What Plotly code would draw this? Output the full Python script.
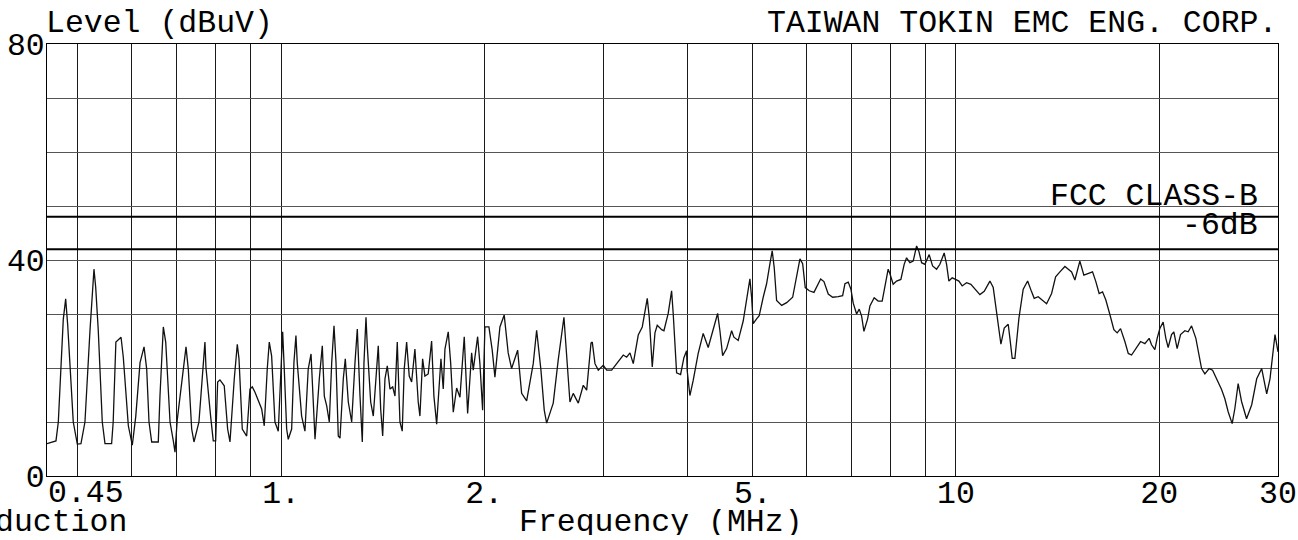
import math
import plotly.graph_objects as go

# ---- data (frequency in MHz, level in dBuV) ----
freq_mhz = [
    0.450, 0.4577, 0.4640, 0.4677, 0.4757, 0.4796, 0.4829, 0.4922, 0.4990, 0.5053,
    0.5122, 0.5211, 0.5282, 0.5313, 0.5360, 0.5434, 0.5484, 0.5610, 0.5640, 0.5692,
    0.5793, 0.5838, 0.5939, 0.6020, 0.6091, 0.6181, 0.6266, 0.6323, 0.6373, 0.6432,
    0.6578, 0.6616, 0.6692, 0.6747, 0.6847, 0.6924, 0.6964, 0.7019, 0.7125, 0.7231,
    0.7287, 0.7372, 0.7430, 0.7557, 0.7713, 0.7740, 0.7865, 0.7935, 0.8000, 0.8055,
    0.8118, 0.8238, 0.8334, 0.8401, 0.8525, 0.8613, 0.8663, 0.8761, 0.8893, 0.8994,
    0.9065, 0.9149, 0.9360, 0.9443, 0.9540, 0.9606, 0.9684, 0.9794, 0.9905, 1.0000,
    1.0055, 1.0110, 1.0193, 1.0248, 1.0368, 1.0450, 1.0521, 1.0568, 1.0727, 1.0849,
    1.0971, 1.1077, 1.1164, 1.1228, 1.1394, 1.1511, 1.1590, 1.1685, 1.1789, 1.1886,
    1.1980, 1.2062, 1.2156, 1.2227, 1.2366, 1.2450, 1.2578, 1.2725, 1.2869, 1.2971,
    1.3091, 1.3194, 1.3270, 1.3361, 1.3420, 1.3577, 1.3698, 1.3824, 1.3933, 1.4048,
    1.4144, 1.4255, 1.4368, 1.4501, 1.4635, 1.4750, 1.4866, 1.5002, 1.5120, 1.5223,
    1.5348, 1.5485, 1.5612, 1.5788, 1.5967, 1.6060, 1.6208, 1.6336, 1.6521, 1.6714,
    1.6845, 1.7004, 1.7155, 1.7255, 1.7391, 1.7492, 1.7690, 1.7835, 1.7995, 1.8204,
    1.8410, 1.8682, 1.8899, 1.9159, 1.9264, 1.9555, 1.9708, 1.9891, 2.0048, 2.0323,
    2.0553, 2.0743, 2.1100, 2.1411, 2.1704, 2.1957, 2.2415, 2.2723, 2.3114, 2.3640,
    2.3915, 2.4269, 2.4544, 2.4746, 2.5309, 2.5744, 2.6250, 2.6583, 2.6793, 2.7096,
    2.7567, 2.8041, 2.8368, 2.8787, 2.8915, 2.9182, 2.9513, 3.0020, 3.0371, 3.0893,
    3.1424, 3.2140, 3.2514, 3.2882, 3.3254, 3.3826, 3.4291, 3.4881, 3.5119, 3.5481,
    3.5809, 3.6091, 3.6637, 3.6922, 3.7464, 3.7901, 3.8109, 3.8554, 3.9083, 3.9525,
    3.9891, 3.9973, 4.0342, 4.0799, 4.1501, 4.2215, 4.2941, 4.3684, 4.4345, 4.4694,
    4.5108, 4.5727, 4.6514, 4.6880, 4.7573, 4.8390, 4.9054, 4.9508, 4.9796, 5.0068,
    5.0650, 5.1104, 5.1806, 5.2409, 5.3003, 5.3421, 5.3787, 5.4229, 5.5170, 5.6120,
    5.7280, 5.8067, 5.8724, 5.9267, 5.9795, 6.0617, 6.1597, 6.3021, 6.3732, 6.4674,
    6.5652, 6.6919, 6.7930, 6.8466, 6.9239, 6.9881, 7.0431, 7.1252, 7.1887, 7.2478,
    7.3049, 7.3977, 7.4560, 7.5648, 7.6687, 7.7741, 7.8647, 7.9348, 7.9809, 8.0712,
    8.1654, 8.2861, 8.3798, 8.4488, 8.5452, 8.6420, 8.7428, 8.8116, 8.8932, 8.9939,
    9.1267, 9.2332, 9.3600, 9.4662, 9.6055, 9.6844, 9.7607, 9.8712, 9.9864, 10.099,
    10.214, 10.368, 10.521, 10.692, 10.850, 11.012, 11.228, 11.355, 11.487, 11.578,
    11.657, 11.789, 11.951, 12.020, 12.115, 12.227, 12.395, 12.578, 12.769, 12.944,
    13.059, 13.238, 13.420, 13.623, 13.857, 14.048, 14.255, 14.501, 14.700, 14.836,
    15.004, 15.120, 15.259, 15.469, 15.697, 15.935, 16.115, 16.297, 16.488, 16.674,
    16.905, 17.137, 17.331, 17.533, 17.792, 17.999, 18.204, 18.517, 18.770, 19.048,
    19.329, 19.488, 19.709, 19.864, 20.048, 20.275, 20.462, 20.624, 20.864, 21.028,
    21.266, 21.515, 21.833, 22.080, 22.339, 22.669, 22.847, 23.114, 23.377, 23.721,
    23.998, 24.327, 24.746, 25.026, 25.309, 25.657, 25.894, 26.187, 26.493, 26.949,
    27.426, 27.898, 28.378, 28.865, 29.192, 29.695, 30.000,
]
level_dbuv = [
    6.0, 6.2, 6.5, 10.0, 29.0, 32.8, 28.0, 10.0, 5.9, 6.0,
    10.0, 27.0, 38.3, 35.0, 27.0, 10.0, 6.0, 6.0, 10.0, 24.8,
    25.7, 22.0, 9.3, 5.7, 11.0, 21.0, 23.9, 19.8, 10.0, 6.3,
    6.3, 14.8, 27.6, 24.8, 10.0, 6.5, 4.4, 10.5, 17.4, 23.9,
    19.8, 8.7, 6.3, 10.0, 24.8, 20.1, 11.0, 6.5, 6.5, 17.4,
    17.8, 16.7, 8.7, 6.3, 18.0, 24.4, 21.7, 8.7, 7.4, 16.1,
    16.5, 15.5, 12.4, 9.3, 19.8, 24.8, 22.2, 10.0, 8.3, 21.1,
    26.7, 19.8, 8.7, 6.8, 8.7, 21.1, 26.0, 21.0, 11.1, 8.3,
    19.8, 22.6, 14.8, 6.8, 18.0, 24.1, 14.8, 13.0, 10.0, 21.0,
    27.8, 21.0, 7.4, 7.0, 18.0, 21.7, 13.7, 10.0, 21.0, 27.2,
    14.8, 6.3, 21.0, 29.4, 24.1, 13.7, 11.1, 18.0, 24.1, 12.4,
    7.4, 18.0, 20.4, 16.1, 16.5, 14.8, 24.8, 10.0, 8.3, 19.8,
    24.8, 18.5, 17.4, 23.5, 13.7, 11.1, 21.7, 18.5, 18.9, 25.0,
    14.8, 9.6, 18.0, 21.7, 16.1, 23.5, 26.7, 21.0, 11.8, 16.3,
    14.6, 25.8, 11.6, 22.8, 19.6, 25.8, 20.8, 12.2, 27.6, 27.6,
    23.3, 18.3, 27.6, 29.8, 22.8, 19.9, 23.3, 15.3, 13.9, 20.8,
    27.0, 19.6, 12.2, 9.8, 13.5, 21.5, 29.4, 19.6, 13.7, 15.3,
    13.5, 16.8, 15.9, 24.6, 24.8, 20.8, 19.6, 20.5, 19.6, 19.6,
    20.8, 22.4, 22.0, 22.8, 20.8, 26.1, 27.6, 32.9, 29.4, 20.2,
    26.5, 27.9, 27.1, 26.9, 30.1, 34.3, 30.1, 19.1, 18.8, 21.9,
    23.2, 19.5, 14.9, 17.7, 22.7, 26.4, 23.8, 27.3, 30.1, 26.9,
    22.3, 23.6, 26.9, 25.7, 25.1, 28.7, 33.1, 36.5, 33.1, 28.2,
    29.1, 29.7, 33.1, 35.6, 39.3, 41.7, 38.6, 32.5, 31.6, 32.1,
    33.1, 36.7, 40.2, 39.3, 34.9, 34.3, 34.0, 36.5, 36.0, 33.7,
    33.1, 33.2, 33.4, 35.6, 35.9, 34.6, 32.0, 30.0, 30.9, 29.6,
    26.8, 29.1, 31.5, 33.0, 32.4, 32.4, 36.1, 38.3, 37.5, 35.5,
    36.1, 36.4, 39.2, 40.4, 39.5, 39.8, 42.6, 41.6, 39.5, 39.2,
    41.0, 38.9, 38.3, 39.2, 41.3, 39.2, 36.1, 36.7, 36.4, 36.1,
    35.2, 35.8, 35.5, 34.6, 33.6, 34.2, 36.1, 34.9, 30.5, 26.8,
    24.4, 27.4, 28.1, 25.5, 21.8, 21.8, 29.2, 34.6, 36.1, 34.1,
    32.9, 33.2, 32.6, 31.9, 33.8, 36.9, 37.8, 38.8, 38.2, 37.8,
    36.3, 38.0, 39.8, 37.2, 37.5, 37.8, 36.0, 33.8, 34.1, 32.6,
    29.9, 27.1, 26.5, 27.3, 24.9, 22.7, 22.4, 23.9, 24.9, 24.5,
    25.5, 24.3, 23.4, 25.5, 27.3, 28.5, 25.5, 23.8, 26.2, 26.7,
    23.6, 26.2, 26.9, 26.7, 27.8, 25.5, 23.0, 19.9, 18.9, 19.9,
    19.6, 18.0, 16.0, 14.3, 11.9, 9.7, 12.5, 17.1, 13.8, 10.6,
    13.2, 18.0, 19.9, 15.2, 18.0, 26.2, 23.0,
]

fcc_class_b_limit = 48.0
margin_db = 6.0

x_grid_vals = [0.5, 0.6, 0.7, 0.8, 0.9, 1, 2, 3, 4, 5, 6, 7, 8, 9, 10, 20, 30]
x_grid_text = ["", "", "", "", "", "1.", "2.", "", "", "5.", "", "", "", "", "10", "20", "30"]
y_grid_vals = [0, 10, 20, 30, 40, 50, 60, 70, 80]
y_grid_text = ["0", "", "", "", "40", "", "", "", "80"]

FONT = "Liberation Mono, Courier New, monospace"
FS = 31.5

fig = go.Figure()
fig.add_trace(go.Scatter(
    x=freq_mhz, y=level_dbuv, mode="lines",
    line=dict(color="#111111", width=1.3), hoverinfo="skip", showlegend=False,
))

fig.add_hline(y=fcc_class_b_limit, line=dict(color="black", width=2))
fig.add_hline(y=fcc_class_b_limit - margin_db, line=dict(color="black", width=2))

fig.update_layout(
    width=1298, height=540,
    margin=dict(l=47, r=20, t=44, b=64),
    paper_bgcolor="white", plot_bgcolor="white",
    font=dict(family=FONT, size=FS, color="black"),
    showlegend=False,
    xaxis=dict(
        type="log", range=[math.log10(0.45), math.log10(30)],
        tickmode="array", tickvals=x_grid_vals, ticktext=x_grid_text,
        showgrid=True, gridcolor="#1a1a1a", gridwidth=1,
        showline=True, linecolor="black", linewidth=1, mirror=True,
        ticks="", zeroline=False, automargin=False, ticklabelstandoff=-12,
        tickfont=dict(family=FONT, size=FS, color="black"),
    ),
    yaxis=dict(
        range=[0, 80], tickmode="array", tickvals=y_grid_vals, ticktext=y_grid_text,
        showgrid=True, gridcolor="#555555", gridwidth=1.2,
        showline=True, linecolor="black", linewidth=1, mirror=True,
        ticks="", zeroline=False, automargin=False, ticklabelstandoff=-5,
        tickfont=dict(family=FONT, size=FS, color="black"),
    ),
)

ann_font = dict(family=FONT, size=FS, color="black")
fig.add_annotation(text="Level (dBuV)", xref="paper", yref="paper", x=0, y=1,
                   xanchor="left", yanchor="bottom", xshift=-3, yshift=1,
                   showarrow=False, font=ann_font)
fig.add_annotation(text="TAIWAN TOKIN EMC ENG. CORP.", xref="paper", yref="paper", x=1, y=1,
                   xanchor="right", yanchor="bottom", xshift=1, yshift=1,
                   showarrow=False, font=ann_font)
fig.add_annotation(text="FCC CLASS-B", xref="paper", yref="y", x=1, y=51.9,
                   xanchor="right", yanchor="middle", height=26, xshift=-18,
                   showarrow=False, font=ann_font)
fig.add_annotation(text="-6dB", xref="paper", yref="y", x=1, y=46.4,
                   xanchor="right", yanchor="middle", height=26, xshift=-18,
                   showarrow=False, font=ann_font)
fig.add_annotation(text="0.45", xref="paper", yref="paper", x=0, y=-0.0405,
                   xanchor="left", yanchor="middle", height=26, xshift=-1,
                   showarrow=False, font=ann_font)
fig.add_annotation(text="Frequency (MHz)", xref="paper", yref="paper", x=0.5, y=-0.1076,
                   xanchor="center", yanchor="middle", height=26, xshift=-2,
                   showarrow=False, font=ann_font)
fig.add_annotation(text="duction", xref="paper", yref="paper", x=0, y=-0.1076,
                   xanchor="right", yanchor="middle", height=26, xshift=82,
                   showarrow=False, font=ann_font)

fig.write_html("out.html", config={"displayModeBar": False},
               post_script="document.body.style.margin='0px';document.body.style.overflow='hidden';")
